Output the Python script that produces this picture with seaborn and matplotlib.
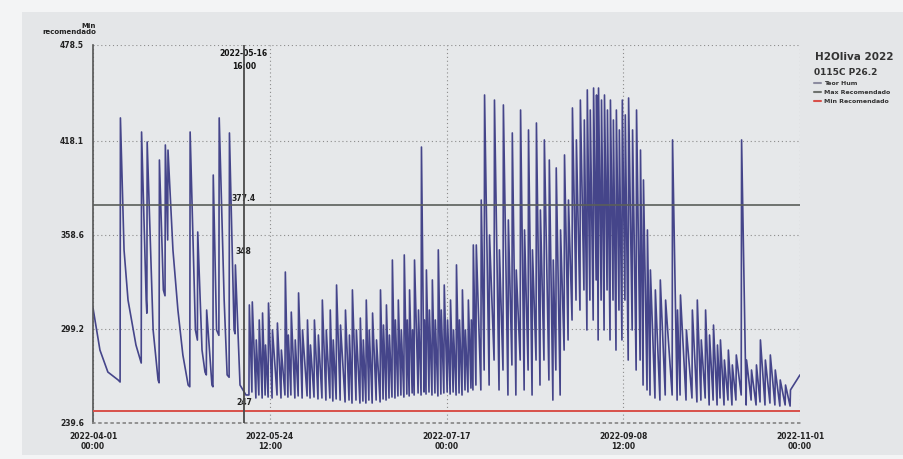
import matplotlib
matplotlib.use("Agg")
import numpy as np
import pandas as pd
import matplotlib.pyplot as plt
from matplotlib.lines import Line2D
from matplotlib.patches import Rectangle
import seaborn as sns

# ---- data -------------------------------------------------------------
START = pd.Timestamp("2022-04-01 00:00")

# April / early May: explicit trace (days since start, value)
april_day = [0.0, 2.1, 4.5, 7.6, 8.2, 8.3, 9.4, 10.6, 13.0, 14.6, 14.7, 16.1, 16.3,
             16.4, 18.2, 19.7, 20.0, 20.1, 21.3, 21.8, 21.9, 22.6, 22.7, 24.2, 25.7,
             27.2, 28.8, 29.3, 29.4, 31.0, 31.6, 31.7, 33.0, 33.9, 34.3, 34.4, 36.0,
             36.3, 36.4, 37.4, 38.1, 38.2, 39.7, 40.6, 41.2, 41.3, 42.7, 43.0, 43.1,
             44.5, 46.3]
april_val = [312.3, 285.7, 271.8, 266.8, 265.5, 432.4, 348.9, 317.3, 288.9, 277.5, 423.5,
             317.3, 309.0, 417.2, 298.4, 266.8, 265.0, 405.8, 323.7, 320.0, 415.3, 355.3,
             412.1, 348.9, 311.0, 282.6, 263.6, 262.5, 423.5, 298.4, 292.0, 360.3, 285.7,
             271.8, 270.0, 311.0, 263.6, 262.5, 396.3, 298.4, 295.0, 432.4, 317.3, 270.0,
             268.5, 422.9, 298.4, 296.0, 339.5, 263.6, 257.3]

# Irrigation events afterwards: day of rise, peak reached, level before next rise
event_day = [47.2, 48.1, 49.3, 50.2, 51.2, 52.1, 53.0, 54.2, 55.7, 56.9, 58.1, 59.0,
             59.9, 61.1, 62.1, 63.3, 64.8, 65.7, 66.9, 68.1, 69.3, 70.5, 71.7, 72.6,
             73.6, 74.8, 76.3, 77.5, 78.4, 79.6, 80.8, 81.7, 82.6, 83.5, 84.5, 85.7,
             86.9, 87.8, 88.7, 89.6, 90.5, 91.4, 92.3, 93.2, 94.1, 95.0, 95.7, 96.6,
             97.2, 98.4, 99.3, 100.2, 100.8, 101.7, 102.6, 103.5, 104.4, 105.3, 106.2,
             107.2, 108.1, 109.0, 109.9, 110.8, 111.7, 112.6, 113.5, 114.4, 115.0,
             115.9, 117.4, 118.4, 119.9, 121.4, 122.9, 124.1, 125.6, 126.8, 128.0,
             129.3, 130.5, 131.7, 132.9, 134.1, 135.3, 136.5, 138.0, 139.2, 140.1,
             141.4, 142.6, 143.8, 145.0, 146.2, 147.4, 148.6, 149.5, 150.4, 151.4,
             152.3, 152.9, 153.8, 154.7, 155.6, 156.5, 157.4, 158.3, 159.2, 160.1,
             161.0, 162.0, 163.2, 164.4, 165.6, 166.5, 167.7, 168.6, 170.1, 171.6,
             173.2, 175.3, 176.8, 177.7, 179.5, 181.3, 182.8, 184.0, 185.3, 186.5,
             187.7, 188.9, 189.8, 191.0, 192.2, 193.4, 194.6, 196.2, 197.7, 199.2,
             200.7, 201.9, 203.4, 204.9, 206.4, 207.9, 209.5, 211.0, 212.8]
event_peak = [314.2, 316.1, 292.1, 304.7, 309.1, 288.9, 315.4, 298.4, 302.8, 285.7, 335.0,
              295.2, 309.7, 292.1, 321.8, 298.4, 304.7, 288.9, 304.7, 295.2, 317.3, 298.4,
              311.0, 292.1, 326.8, 301.5, 311.0, 295.2, 323.7, 298.4, 305.9, 292.1, 317.3,
              298.4, 309.1, 292.1, 323.7, 301.5, 314.2, 295.2, 342.6, 304.7, 317.3, 298.4,
              345.8, 304.7, 323.7, 298.4, 342.6, 311.0, 414.0, 304.7, 336.3, 311.0, 330.0,
              304.7, 349.0, 311.0, 326.8, 304.7, 317.3, 298.4, 339.5, 304.7, 323.7, 298.4,
              317.3, 304.7, 352.1, 352.1, 380.5, 446.9, 358.4, 443.7, 349.0, 440.6, 367.9,
              422.9, 336.3, 437.4, 361.6, 424.8, 349.0, 429.2, 374.2, 418.5, 405.8, 342.6,
              400.8, 361.6, 409.0, 380.5, 438.7, 418.5, 443.7, 431.1, 450.1, 437.4, 451.3,
              446.9, 451.3, 443.7, 446.9, 437.4, 443.7, 431.1, 437.4, 424.8, 443.7, 434.3,
              445.0, 424.8, 437.4, 412.1, 393.2, 361.6, 336.3, 323.7, 330.0, 317.3, 418.5,
              311.0, 320.5, 298.4, 311.0, 317.3, 292.1, 311.0, 295.2, 301.5, 288.9, 292.1,
              279.4, 285.7, 276.3, 282.6, 418.5, 279.4, 273.1, 276.3, 292.1, 279.4, 282.6,
              273.1, 266.8, 263.6, 260.5, 371.1]
event_low = [259.2, 255.4, 257.3, 255.4, 257.3, 256.0, 255.4, 257.3, 255.4, 257.3, 256.0,
             257.3, 255.4, 256.7, 255.4, 256.7, 255.4, 256.0, 254.8, 255.4, 254.1, 255.4,
             253.5, 254.8, 254.1, 252.9, 254.1, 252.2, 254.1, 252.2, 253.5, 252.2, 254.1,
             252.2, 254.1, 252.9, 254.8, 254.1, 255.4, 256.0, 255.4, 256.7, 257.3, 256.0,
             257.9, 256.7, 258.6, 257.3, 258.6, 257.3, 259.2, 257.9, 259.2, 257.3, 258.6,
             256.7, 257.9, 258.6, 259.2, 257.9, 259.2, 257.3, 258.6, 257.3, 260.5, 259.2,
             261.7, 260.5, 263.6, 260.5, 273.1, 263.6, 279.4, 260.5, 273.1, 257.3, 276.3,
             257.3, 279.4, 260.5, 273.1, 257.3, 279.4, 263.6, 279.4, 266.8, 254.1, 273.1,
             257.3, 285.7, 292.1, 304.7, 317.3, 311.0, 323.7, 298.4, 317.3, 304.7, 330.0,
             292.1, 317.3, 298.4, 323.7, 292.1, 317.3, 285.7, 311.0, 292.1, 317.3, 279.4,
             298.4, 273.1, 279.4, 263.6, 260.5, 257.3, 255.4, 254.1, 257.3, 257.3, 254.1,
             257.3, 254.1, 255.4, 252.9, 254.1, 255.4, 251.0, 254.1, 251.0, 255.4, 251.0,
             254.1, 251.0, 254.1, 257.3, 251.0, 254.1, 251.0, 252.9, 251.0, 252.2, 251.0,
             250.3, 251.0, 250.3, 270.0]
END_DAY = 214.0

max_recommended = 377.4
min_recommended = 247.0

y_ticks = [239.6, 299.2, 358.6, 418.1, 478.5]
x_tick_labels = ["2022-04-01\n00:00", "2022-05-24\n12:00", "2022-07-17\n00:00",
                 "2022-09-08\n12:00", "2022-11-01\n00:00"]
cursor_time = "2022-05-16 16:00"
cursor_hum = 348.0

# ---- build the soil-moisture trace -----------------------------------
days = list(april_day)
vals = list(april_val)
prev_low = vals[-1]
for d, p, low in zip(event_day, event_peak, event_low):
    days += [d, d + 0.12]
    vals += [prev_low, p]
    prev_low = low
days.append(END_DAY)
vals.append(prev_low)

df = pd.DataFrame({
    "time": START + pd.to_timedelta(days, unit="D"),
    "hum": vals,
})

# ---- figure -------------------------------------------------------------
sns.set_theme(style="white")
plt.rcParams["font.family"] = ["DejaVu Sans"]

fig = plt.figure(figsize=(9.04, 4.59), dpi=100, facecolor="#f3f4f5")
fig.patches.append(Rectangle((22 / 904, 4 / 459), 1.0, 443 / 459,
                             transform=fig.transFigure, facecolor="#e4e6e8",
                             edgecolor="none", zorder=-10))
ax = fig.add_axes([93 / 904, 1 - 423 / 459, 707 / 904, 378 / 459])
ax.set_facecolor("#e6e8ea")

line_col = "#45458a"
sns.lineplot(data=df, x="time", y="hum", ax=ax, color=line_col, lw=1.2,
             estimator=None, sort=False, legend=False)

ax.axhline(max_recommended, color="#5a5e5a", lw=1.2, zorder=3)
ax.axhline(min_recommended, color="#d8504a", lw=1.4, zorder=3)

x_ticks = pd.date_range(START, pd.Timestamp("2022-11-01"), periods=5)
ax.set_xlim(x_ticks[0], x_ticks[-1])
ax.set_ylim(y_ticks[0], y_ticks[-1])
ax.set_xticks(x_ticks)
ax.set_xticklabels(x_tick_labels)
ax.set_yticks(y_ticks)
ax.set_yticklabels([f"{v:.1f}" for v in y_ticks])
ax.tick_params(axis="both", labelsize=5.5, colors="#222222", length=3, width=0.8,
               direction="out")
for lab in ax.get_xticklabels() + ax.get_yticklabels():
    lab.set_fontweight("bold")

ax.grid(True, color="#8c8c8c", ls=(0, (1, 2.5)), lw=0.8)
for side in ["top", "right"]:
    ax.spines[side].set_visible(False)
ax.spines["left"].set_color("#555555")
ax.spines["left"].set_linewidth(1.2)
ax.spines["bottom"].set_color("#888888")
ax.spines["bottom"].set_linestyle((0, (1, 2.5)))
ax.set_xlabel("")
ax.set_ylabel("")

# cursor with readouts
ct = pd.Timestamp(cursor_time)
ax.axvline(ct, color="#4a4a4a", lw=1.3, zorder=4)
ax.text(ct, 476, "2022-05-16\n16:00", ha="center", va="top", fontsize=5.5,
        fontweight="bold", color="#111111", linespacing=1.6)
ax.text(ct, max_recommended + 1.5, f"{max_recommended}", ha="center", va="bottom",
        fontsize=5.5, fontweight="bold", color="#222222")
ax.text(ct, cursor_hum, f"{cursor_hum:.0f}", ha="center", va="center",
        fontsize=5.5, fontweight="bold", color="#222222")
ax.text(ct, min_recommended + 2.5, f"{min_recommended:.0f}", ha="center",
        va="bottom", fontsize=5.5, fontweight="bold", color="#222222")

fig.text(96 / 904, 1 - 29 / 459, "Min\nrecomendado", ha="right", va="center",
         fontsize=5, fontweight="bold", color="#222222", multialignment="right")

# legend panel
fig.text(815 / 904, 1 - 57 / 459, "H2Oliva 2022", ha="left", va="center",
         fontsize=7.5, fontweight="bold", color="#333333")
handles = [Line2D([], [], color="#8c8ca0", lw=1.5),
           Line2D([], [], color="#6e726e", lw=1.5),
           Line2D([], [], color="#d8504a", lw=1.5)]
leg = fig.legend(handles, ["Teor Hum", "Max Recomendado", "Min Recomendado"],
                 loc="upper left", bbox_to_anchor=(810 / 904, 1 - 64 / 459),
                 title="0115C P26.2", frameon=False, fontsize=4.5,
                 handlelength=1.2, handletextpad=0.5, labelspacing=0.6,
                 alignment="left", borderaxespad=0.2)
leg.get_title().set_fontsize(6.5)
leg.get_title().set_fontweight("bold")
leg.get_title().set_color("#333333")
for t in leg.get_texts():
    t.set_fontweight("bold")
    t.set_color("#333333")

fig.savefig("out.png", dpi=100, facecolor=fig.get_facecolor())
